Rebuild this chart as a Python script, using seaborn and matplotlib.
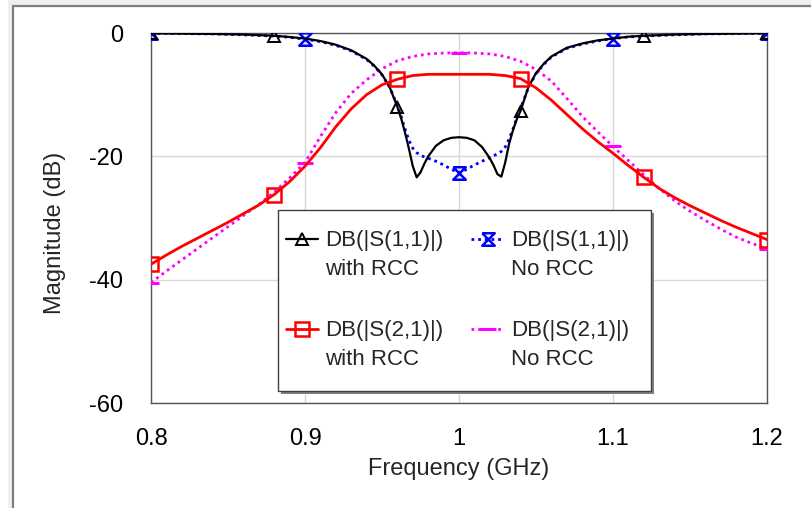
import numpy as np
import matplotlib
matplotlib.use("Agg")
import matplotlib.pyplot as plt
import matplotlib.transforms as mtransforms
import seaborn as sns
from matplotlib.patches import Rectangle
from matplotlib.lines import Line2D

# Frequency grids (GHz)
freq_s11 = [0.80, 0.82, 0.84, 0.86, 0.88, 0.89, 0.90, 0.91, 0.92, 0.93, 0.94,
            0.945, 0.95, 0.955, 0.96, 0.9625, 0.965, 0.9675, 0.97, 0.9725,
            0.975, 0.9775, 0.98, 0.985, 0.99, 0.995, 1.00,
            1.005, 1.01, 1.015, 1.02, 1.0225, 1.025, 1.0275, 1.03, 1.0325,
            1.035, 1.0375, 1.04, 1.045, 1.05, 1.055, 1.06, 1.07, 1.08, 1.09,
            1.10, 1.11, 1.12, 1.14, 1.16, 1.18, 1.20]

# |S11| in dB, with and without RCC
s11_rcc = [-0.05, -0.1, -0.15, -0.25, -0.45, -0.65, -0.9, -1.3, -1.9, -2.8, -4.2,
           -5.3, -6.7, -8.8, -12.0, -13.9, -16.2, -18.8, -21.6, -23.4,
           -22.6, -21.2, -20.0, -18.3, -17.4, -17.0, -16.9,
           -17.0, -17.4, -18.5, -20.3, -21.5, -22.9, -23.3, -21.0, -18.0,
           -15.8, -14.0, -12.6, -8.8, -6.5, -5.0, -3.8, -2.4, -1.7, -1.2,
           -0.9, -0.6, -0.45, -0.25, -0.15, -0.1, -0.05]

s11_norcc = [-0.05, -0.1, -0.15, -0.3, -0.5, -0.7, -1.0, -1.4, -2.0, -2.9, -4.3,
             -5.4, -6.8, -8.8, -11.8, -13.6, -15.6, -17.4, -18.7, -19.4,
             -19.8, -20.1, -20.3, -20.8, -21.4, -22.1, -22.7,
             -22.1, -21.4, -20.8, -20.2, -19.9, -19.6, -19.2, -18.5, -17.2,
             -15.6, -13.8, -12.2, -8.9, -6.6, -5.1, -3.9, -2.5, -1.8, -1.3,
             -0.9, -0.65, -0.5, -0.3, -0.15, -0.1, -0.05]

freq_s21 = [0.80, 0.81, 0.82, 0.83, 0.84, 0.85, 0.86, 0.87, 0.88, 0.89,
            0.90, 0.91, 0.92, 0.93, 0.94, 0.95, 0.96, 0.97, 0.98, 0.99,
            1.00, 1.01, 1.02, 1.03, 1.04, 1.05, 1.06, 1.07, 1.08, 1.09,
            1.10, 1.11, 1.12, 1.13, 1.14, 1.15, 1.16, 1.17, 1.18, 1.19, 1.20]

# |S21| in dB, with and without RCC
s21_rcc = [-37.5, -36.0, -34.6, -33.3, -32.0, -30.7, -29.3, -27.9, -26.2, -24.1,
           -21.6, -18.6, -15.2, -12.3, -10.0, -8.4, -7.5, -6.9, -6.7, -6.7,
           -6.7, -6.7, -6.7, -6.9, -7.4, -8.9, -10.9, -13.2, -15.5, -17.6,
           -19.5, -21.5, -23.4, -25.2, -26.7, -28.0, -29.2, -30.4, -31.5, -32.5,
           -33.5]

s21_norcc = [-40.5, -38.6, -36.8, -35.0, -33.2, -31.4, -29.6, -27.8, -25.8, -23.5,
             -21.0, -16.8, -12.9, -9.8, -7.6, -5.8, -4.5, -3.8, -3.4, -3.25,
             -3.2, -3.25, -3.4, -3.8, -4.6, -5.9, -7.8, -10.6, -13.5, -16.0,
             -18.4, -20.7, -23.0, -25.2, -27.2, -28.9, -30.4, -31.8, -33.1, -34.1,
             -35.0]

# Marker frequencies for each trace family
marker_freq_rcc = [0.80, 0.88, 0.96, 1.04, 1.12, 1.20]
marker_freq_norcc = [0.80, 0.90, 1.00, 1.10, 1.20]

x_ticks = [0.8, 0.9, 1.0, 1.1, 1.2]
x_tick_labels = ["0.8", "0.9", "1", "1.1", "1.2"]
y_ticks = [0, -20, -40, -60]
y_tick_labels = ["0", "-20", "-40", "-60"]

labels = ["DB(|S(1,1)|)\nwith RCC", "DB(|S(1,1)|)\nNo RCC",
          "DB(|S(2,1)|)\nwith RCC", "DB(|S(2,1)|)\nNo RCC"]


def mark_idx(freqs, marks):
    f = np.asarray(freqs)
    return [int(np.argmin(np.abs(f - m))) for m in marks]


sns.set_theme(style="white")
plt.rcParams["font.family"] = ["Liberation Sans", "DejaVu Sans"]

W, H = 811, 508
fig = plt.figure(figsize=(W / 100, H / 100), dpi=100)

# window-like frame around the plot area
fig.patches.append(Rectangle((8 / W, 0), 5 / W, 1, transform=fig.transFigure,
                             facecolor="#f0f0f0", edgecolor="none", zorder=0))
fig.patches.append(Rectangle((8 / W, 1 - 6 / H), 1, 6 / H, transform=fig.transFigure,
                             facecolor="#f0f0f0", edgecolor="none", zorder=0))
fig.add_artist(Line2D([13 / W, 13 / W], [0, 1 - 6 / H], transform=fig.transFigure,
                      color="#7f7f7f", lw=1.6))
fig.add_artist(Line2D([13 / W, 1], [1 - 6 / H, 1 - 6 / H], transform=fig.transFigure,
                      color="#7f7f7f", lw=1.6))

ax = fig.add_axes([151 / W, 1 - 403 / H, 616 / W, 370 / H])

hourglass = [(-1, 1), (1, 1), (-1, -1), (1, -1), (-1, 1)]

sns.lineplot(x=freq_s11, y=s11_norcc, ax=ax, color="#0000ff", lw=2.0,
             linestyle=(0, (1, 1.4)), marker=hourglass, markersize=9,
             markerfacecolor="none", markeredgecolor="#0000ff", markeredgewidth=1.8,
             markevery=mark_idx(freq_s11, marker_freq_norcc), zorder=3)
sns.lineplot(x=freq_s11, y=s11_rcc, ax=ax, color="black", lw=1.6,
             marker="^", markersize=9, markerfacecolor="none",
             markeredgecolor="black", markeredgewidth=1.4,
             markevery=mark_idx(freq_s11, marker_freq_rcc), zorder=4)
sns.lineplot(x=freq_s21, y=s21_norcc, ax=ax, color="#ff00ff", lw=2.0,
             linestyle=(0, (1, 1.4)), marker="_", markersize=12,
             markeredgecolor="#ff00ff", markeredgewidth=2.2,
             markevery=mark_idx(freq_s21, marker_freq_norcc), zorder=3)
sns.lineplot(x=freq_s21, y=s21_rcc, ax=ax, color="#ff0000", lw=2.0,
             marker="s", markersize=10, markerfacecolor="none",
             markeredgecolor="#ff0000", markeredgewidth=1.8,
             markevery=mark_idx(freq_s21, marker_freq_rcc), zorder=4)

lines = ax.get_lines()
h_s11_no, h_s11_rcc, h_s21_no, h_s21_rcc = lines[0], lines[1], lines[2], lines[3]

ax.set_xlim(0.8, 1.2)
ax.set_ylim(-60, 0)
ax.set_xticks(x_ticks)
ax.set_xticklabels(x_tick_labels)
ax.set_yticks(y_ticks)
ax.set_yticklabels(y_tick_labels)
ax.tick_params(length=0, labelsize=17, colors="black")
ax.tick_params(axis="y", pad=20)
ax.tick_params(axis="x", pad=18)
ax.grid(True, color="#d8d8d8", lw=1.0)
ax.set_axisbelow(True)
for sp in ax.spines.values():
    sp.set_color("#555555")
    sp.set_linewidth(1.0)
    sp.set_visible(True)

ax.set_xlabel("Frequency (GHz)", fontsize=17)
ax.set_ylabel("Magnitude (dB)", fontsize=17)
ax.xaxis.set_label_coords(0.5, -0.15)
ax.yaxis.set_label_coords(-0.138, 0.46)

# legend box with drop shadow
box_x, box_y, box_w, box_h = 0.2062, 0.0324, 0.6055, 0.489
shadow_tr = mtransforms.offset_copy(ax.transAxes, fig=fig, x=3, y=-3, units="dots")
ax.add_patch(Rectangle((box_x, box_y), box_w, box_h, transform=shadow_tr,
                       facecolor="#808080", edgecolor="none", zorder=4.5,
                       clip_on=False))
ax.add_patch(Rectangle((box_x, box_y), box_w, box_h, transform=ax.transAxes,
                       facecolor="white", edgecolor="#404040", lw=1.0, zorder=4.6,
                       clip_on=False))

leg = ax.legend([h_s11_rcc, h_s21_rcc, h_s11_no, h_s21_no],
                [labels[0], labels[2], labels[1], labels[3]],
                loc="upper left", bbox_to_anchor=(0.219, 0.468, 0.557, 0),
                mode="expand", ncol=2, fontsize=16, frameon=False,
                handlelength=1.45, handleheight=1.0, handletextpad=0.32,
                labelspacing=1.78, borderpad=0, borderaxespad=0,
                columnspacing=1.0)
leg.set_zorder(5)
for t in leg.get_texts():
    t.set_linespacing(1.53)
for col in leg._legend_handle_box.get_children():
    for row in col.get_children():
        row.align = "top"

fig.savefig("out.png", dpi=100)
